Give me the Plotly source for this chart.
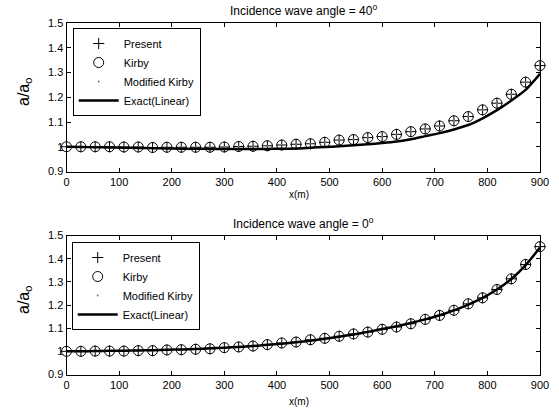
import plotly.graph_objects as go

# ---------------- data ----------------
x_pts = [0, 27.3, 54.5, 81.8, 109.1, 136.4, 163.6, 190.9, 218.2, 245.5, 272.7, 300,
         327.3, 354.5, 381.8, 409.1, 436.4, 463.6, 490.9, 518.2, 545.5, 572.7, 600,
         627.3, 654.5, 681.8, 709.1, 736.4, 763.6, 790.9, 818.2, 845.5, 872.7, 900]

# Incidence wave angle = 40 deg
present_40 = [1.000, 1.000, 1.000, 1.000, 0.999, 0.999, 0.997, 0.998, 0.998, 0.998,
              0.998, 0.999, 1.001, 1.002, 1.004, 1.007, 1.010, 1.012, 1.018, 1.027,
              1.029, 1.037, 1.041, 1.050, 1.061, 1.072, 1.084, 1.105, 1.122, 1.149,
              1.176, 1.212, 1.261, 1.328]
kirby_40 = [1.000, 1.000, 1.000, 1.000, 0.999, 0.999, 0.997, 0.998, 0.998, 0.998,
            0.998, 0.999, 1.001, 1.002, 1.004, 1.007, 1.010, 1.012, 1.018, 1.027,
            1.029, 1.037, 1.041, 1.050, 1.061, 1.072, 1.084, 1.105, 1.122, 1.149,
            1.176, 1.212, 1.261, 1.328]
modkirby_40 = [1.000, 1.000, 1.000, 1.000, 0.999, 0.999, 0.997, 0.998, 0.998, 0.998,
               0.998, 0.999, 1.001, 1.002, 1.004, 1.007, 1.010, 1.012, 1.018, 1.027,
               1.029, 1.037, 1.041, 1.050, 1.061, 1.072, 1.084, 1.105, 1.122, 1.149,
               1.176, 1.212, 1.261, 1.328]
exact_40 = [1.000, 0.999, 0.998, 0.997, 0.996, 0.995, 0.994, 0.993, 0.992, 0.992,
            0.991, 0.991, 0.991, 0.991, 0.991, 0.992, 0.993, 0.996, 0.999, 1.002,
            1.006, 1.010, 1.015, 1.021, 1.030, 1.043, 1.055, 1.070, 1.088, 1.115,
            1.148, 1.187, 1.230, 1.295]

# Incidence wave angle = 0 deg
present_0 = [1.000, 1.000, 1.001, 1.001, 1.001, 1.003, 1.003, 1.006, 1.007, 1.009,
             1.011, 1.016, 1.019, 1.023, 1.029, 1.036, 1.040, 1.050, 1.056, 1.065,
             1.075, 1.083, 1.095, 1.105, 1.119, 1.138, 1.155, 1.177, 1.205, 1.231,
             1.267, 1.313, 1.375, 1.452]
kirby_0 = [1.000, 1.000, 1.001, 1.001, 1.001, 1.003, 1.003, 1.006, 1.007, 1.009,
           1.011, 1.016, 1.019, 1.023, 1.029, 1.036, 1.040, 1.050, 1.056, 1.065,
           1.075, 1.083, 1.095, 1.105, 1.119, 1.138, 1.155, 1.177, 1.205, 1.231,
           1.267, 1.313, 1.375, 1.452]
modkirby_0 = [1.000, 1.000, 1.001, 1.001, 1.001, 1.003, 1.003, 1.006, 1.007, 1.009,
              1.011, 1.016, 1.019, 1.023, 1.029, 1.036, 1.040, 1.050, 1.056, 1.065,
              1.075, 1.083, 1.095, 1.105, 1.119, 1.138, 1.155, 1.177, 1.205, 1.231,
              1.267, 1.313, 1.375, 1.452]
exact_0 = [1.000, 1.000, 1.001, 1.002, 1.003, 1.004, 1.005, 1.007, 1.008, 1.010,
           1.013, 1.016, 1.019, 1.023, 1.028, 1.033, 1.039, 1.046, 1.054, 1.063,
           1.073, 1.084, 1.096, 1.108, 1.122, 1.138, 1.156, 1.177, 1.202, 1.231,
           1.267, 1.312, 1.372, 1.448]

x_ticks = [0, 100, 200, 300, 400, 500, 600, 700, 800, 900]
y_ticks = [0.9, 1.0, 1.1, 1.2, 1.3, 1.4, 1.5]
y_ticktext = ["0.9", "1", "1.1", "1.2", "1.3", "1.4", "1.5"]
titles = ["Incidence wave angle = 40<sup>o</sup>", "Incidence wave angle = 0<sup>o</sup>"]
names = ["Present", "Kirby", "Modified Kirby", "Exact(Linear)"]

FONT = "Arial, Liberation Sans, sans-serif"
W, H = 559, 412

fig = go.Figure()

panels = [
    (present_40, kirby_40, modkirby_40, exact_40, "x", "y", "legend"),
    (present_0, kirby_0, modkirby_0, exact_0, "x2", "y2", "legend2"),
]
for pres, kir, mod, ex, xa, ya, lg in panels:
    fig.add_trace(go.Scatter(x=x_pts, y=pres, mode="markers", name=names[0],
                             marker=dict(symbol="cross-thin-open", size=8, color="black",
                                         line=dict(color="black", width=1)),
                             xaxis=xa, yaxis=ya, legend=lg, cliponaxis=False))
    fig.add_trace(go.Scatter(x=x_pts, y=kir, mode="markers", name=names[1],
                             marker=dict(symbol="circle-open", size=10, color="black",
                                         line=dict(color="black", width=1)),
                             xaxis=xa, yaxis=ya, legend=lg, cliponaxis=False))
    fig.add_trace(go.Scatter(x=x_pts, y=mod, mode="markers", name=names[2],
                             marker=dict(symbol="circle", size=2, color="#777777"),
                             xaxis=xa, yaxis=ya, legend=lg, cliponaxis=False))
    fig.add_trace(go.Scatter(x=x_pts, y=ex, mode="lines", name=names[3],
                             line=dict(color="black", width=2.5, shape="spline", smoothing=0.6),
                             xaxis=xa, yaxis=ya, legend=lg))

x0, x1 = 66.5 / W, 540 / W
top_dom = [1 - 171.5 / H, 1 - 23 / H]
bot_dom = [1 - 374.5 / H, 1 - 235.5 / H]

axis_common = dict(showline=True, linecolor="black", linewidth=1, mirror="ticks",
                   ticks="inside", ticklen=4, tickcolor="black", showgrid=False,
                   zeroline=False, automargin=False,
                   tickfont=dict(family=FONT, size=11, color="black"))

legend_common = dict(xanchor="left", yanchor="top", bgcolor="white",
                     bordercolor="black", borderwidth=1,
                     font=dict(family=FONT, size=11, color="black"),
                     itemwidth=40, tracegroupgap=0)

fig.update_layout(
    width=W, height=H,
    margin=dict(l=0, r=0, t=0, b=0, autoexpand=False),
    paper_bgcolor="white", plot_bgcolor="white",
    font=dict(family=FONT, color="black"),
    xaxis=dict(domain=[x0, x1], range=[0, 900], tickvals=x_ticks, anchor="y", **axis_common),
    yaxis=dict(domain=top_dom, range=[0.9, 1.5], tickvals=y_ticks, ticktext=y_ticktext,
               anchor="x", **axis_common),
    xaxis2=dict(domain=[x0, x1], range=[0, 900], tickvals=x_ticks, anchor="y2", **axis_common),
    yaxis2=dict(domain=bot_dom, range=[0.9, 1.5], tickvals=y_ticks, ticktext=y_ticktext,
                anchor="x2", **axis_common),
    legend=dict(x=72.7 / W, y=1 - 28 / H, **legend_common),
    legend2=dict(x=71.7 / W, y=1 - 242 / H, **legend_common),
    showlegend=True,
)

xc = (66.5 + 540) / 2 / W
ann = [
    dict(text=titles[0], x=xc, y=1 - 10 / H),
    dict(text=titles[1], x=xc, y=1 - 223 / H),
    dict(text="x(m)", x=299 / W, y=1 - 194 / H, size=10),
    dict(text="x(m)", x=299 / W, y=1 - 401 / H, size=10),
    dict(text="a/a<sub>o</sub>", x=24 / W, y=1 - 92 / H, size=16, angle=-90),
    dict(text="a/a<sub>o</sub>", x=24 / W, y=1 - 300 / H, size=16, angle=-90),
]
for a in ann:
    fig.add_annotation(text=a["text"], x=a["x"], y=a["y"], xref="paper", yref="paper",
                       showarrow=False, xanchor="center", yanchor="middle",
                       textangle=a.get("angle", 0),
                       font=dict(family=FONT, size=a.get("size", 12), color="black"))

fig.write_html(
    "out.html",
    config={"displayModeBar": False},
    post_script="document.body.style.margin='0';document.body.style.padding='0';"
                "document.body.style.overflow='hidden';",
)
